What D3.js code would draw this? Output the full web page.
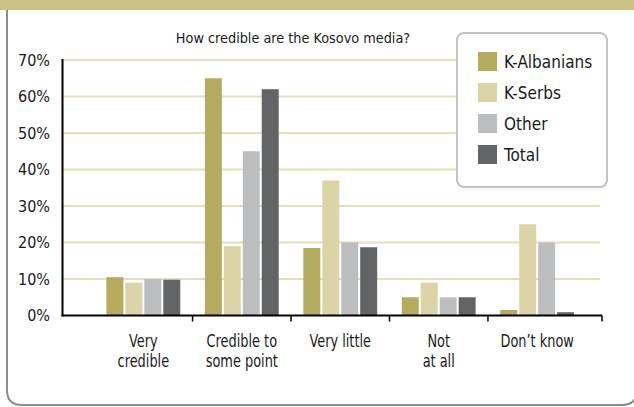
<!DOCTYPE html>
<html>
<head>
<meta charset="utf-8">
<script src="https://cdn.jsdelivr.net/npm/d3@7"></script>
<style>
  html, body { margin: 0; padding: 0; background: #fff; }
  svg { display: block; }
  text { font-family: "DejaVu Sans Condensed", "DejaVu Sans", sans-serif; font-stretch: condensed; fill: #1a1a1a; }
</style>
</head>
<body>
<svg id="chart" width="634" height="407"></svg>
<script>
// Survey answers, in percent of respondents
const categories = ["Very credible", "Credible to some point", "Very little", "Not at all", "Don’t know"];
const categoryLines = [["Very", "credible"], ["Credible to", "some point"], ["Very little"], ["Not", "at all"], ["Don’t know"]];
const series = ["K-Albanians", "K-Serbs", "Other", "Total"];
const kAlbanians = [10.5, 65, 18.5, 5, 1.5];
const kSerbs = [9, 19, 37, 9, 25];
const other = [10, 45, 20, 5, 20];
const total = [9.8, 62, 18.7, 5, 0.9];
const yTicks = [0, 10, 20, 30, 40, 50, 60, 70];
const title = "How credible are the Kosovo media?";

const seriesValues = [kAlbanians, kSerbs, other, total];
const colors = ["#b5ab5f", "#dbd4a6", "#bcbdbf", "#636466"];

const svg = d3.select("#chart");
const W = 634, H = 407;

// header band and rounded panel
svg.append("rect").attr("x", 0).attr("y", 0).attr("width", W).attr("height", 10).attr("fill", "#c9c083");
svg.append("path")
  .attr("d", "M7,10 L7,390 Q7,405 22,405 L622,405 Q637,405 637,390 L637,10")
  .attr("fill", "#fff").attr("stroke", "#8c8c8c").attr("stroke-width", 2);

const plotLeft = 62.5, plotRight = 602, plotTop = 60, plotBottom = 315.5;

const y = d3.scaleLinear().domain([0, 70]).range([plotBottom, plotTop]);
const x = d3.scaleBand().domain(categories).range([plotLeft, 618]).paddingInner(0.25).paddingOuter(0.446);
const xs = d3.scaleBand().domain(series).range([0, x.bandwidth()]).paddingInner(0.105);

// gridlines
svg.append("g").selectAll("line").data(yTicks.filter(d => d > 0)).join("line")
  .attr("x1", plotLeft).attr("x2", plotRight - 2)
  .attr("y1", d => y(d)).attr("y2", d => y(d))
  .attr("stroke", "#e6dfbd").attr("stroke-width", 2);

// y tick labels
svg.append("g").selectAll("text").data(yTicks).join("text")
  .attr("x", 50).attr("y", d => y(d)).attr("dy", "0.36em")
  .attr("text-anchor", "end").attr("font-size", 16)
  .text(d => d + "%");

// bars
const groups = svg.append("g").selectAll("g").data(categories).join("g")
  .attr("transform", c => `translate(${x(c)},0)`);
groups.selectAll("rect")
  .data((c, i) => series.map((s, j) => ({ s, j, v: seriesValues[j][i] })))
  .join("rect")
  .attr("x", d => xs(d.s)).attr("width", xs.bandwidth())
  .attr("y", d => y(d.v)).attr("height", d => y(0) - y(d.v))
  .attr("fill", d => colors[d.j]);

// axes
svg.append("line").attr("x1", plotLeft).attr("x2", plotLeft).attr("y1", plotTop - 1).attr("y2", plotBottom + 1)
  .attr("stroke", "#000").attr("stroke-width", 2);
svg.append("line").attr("x1", plotLeft - 1).attr("x2", plotRight).attr("y1", plotBottom).attr("y2", plotBottom)
  .attr("stroke", "#000").attr("stroke-width", 2);
const gap = x.step() * x.paddingInner() / 2;
const tickXs = categories.slice(1).map(c => x(c) - gap).concat([plotRight]);
svg.append("g").selectAll("line").data(tickXs).join("line")
  .attr("x1", d => d).attr("x2", d => d).attr("y1", plotBottom).attr("y2", plotBottom + 6)
  .attr("stroke", "#000").attr("stroke-width", 1.5);

// category labels, narrowed horizontally
const lbl = svg.append("g").selectAll("g").data(categories).join("g")
  .attr("transform", c => `translate(${x(c) + x.bandwidth() / 2},0) scale(0.82,1)`)
  .append("text")
  .attr("text-anchor", "middle").attr("font-size", 17.5);
lbl.selectAll("tspan").data((c, i) => categoryLines[i]).join("tspan")
  .attr("x", 0)
  .attr("y", (d, k) => 347 + k * 20)
  .text(d => d);

// title
svg.append("text").attr("x", 293).attr("y", 43).attr("text-anchor", "middle")
  .attr("font-size", 14.3).text(title);

// legend
const lg = svg.append("g").attr("transform", "translate(457,33)");
lg.append("rect").attr("width", 150).attr("height", 154).attr("rx", 7)
  .attr("fill", "#fff").attr("stroke", "#c2c2c2").attr("stroke-width", 2);
const items = lg.selectAll("g").data(series).join("g")
  .attr("transform", (d, i) => `translate(21,${19 + i * 31})`);
items.append("rect").attr("width", 19).attr("height", 19).attr("fill", (d, i) => colors[i]);
items.append("text").attr("x", 26).attr("y", 10).attr("dy", "0.36em")
  .attr("font-size", 17).text(d => d);
</script>
</body>
</html>
